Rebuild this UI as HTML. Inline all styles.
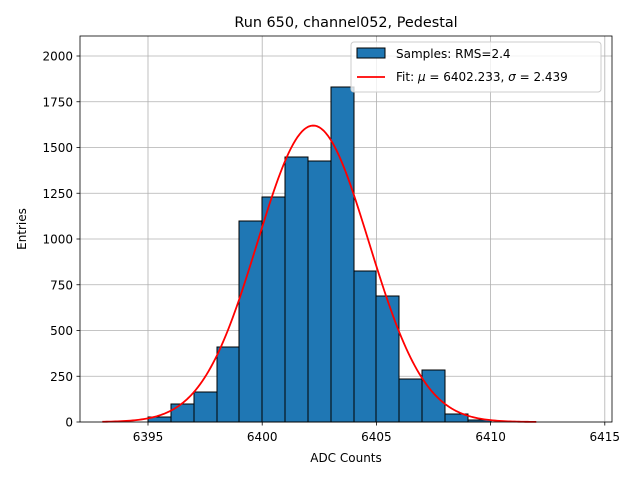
<!DOCTYPE html>
<html><head><meta charset="utf-8"><style>
body{margin:0;background:#fff;}
svg text{font-family:"DejaVu Sans","Liberation Sans",sans-serif;}
</style></head><body>
<svg id="chart" width="640" height="480" xmlns="http://www.w3.org/2000/svg">
<rect width="640" height="480" fill="#fff"/>
<text x="346" y="27" font-size="14.4" text-anchor="middle">Run 650, channel052, Pedestal</text>
<g id="grid"></g>
<g id="bars"></g>
<g id="fit"></g>
<rect x="80" y="36" width="532" height="386" fill="none" stroke="#000" stroke-width="0.8"/>
<g id="ticks"></g>
<text x="346" y="462" font-size="12" text-anchor="middle">ADC Counts</text>
<text transform="translate(26,229) rotate(-90)" font-size="12" text-anchor="middle">Entries</text>
<g>
<rect x="351" y="42" width="250" height="50" rx="3" fill="#fff" fill-opacity="0.8" stroke="#ccc"/>
<rect x="357" y="48" width="28" height="10" fill="#1f77b4" stroke="#000" stroke-width="1"/>
<text x="396" y="58" font-size="12">Samples: RMS=2.4</text>
<line x1="357" y1="77" x2="385" y2="77" stroke="red" stroke-width="1.8"/>
<text x="396" y="81" font-size="12">Fit: <tspan font-style="italic">μ</tspan> = 6402.233, <tspan font-style="italic">σ</tspan> = 2.439</text>
</g>
</svg>
<script>
const binStarts=[6395,6396,6397,6398,6399,6400,6401,6402,6403,6404,6405,6406,6407,6408,6409];
const counts=[25,98,165,410,1100,1230,1450,1425,1830,825,690,235,285,44,10];
const xTicks=[6395,6400,6405,6410,6415];
const yTicks=[0,250,500,750,1000,1250,1500,1750,2000];
const fitMu=6402.233, fitSigma=2.439, fitAmp=1620, fitMin=6393, fitMax=6412;
const NS="http://www.w3.org/2000/svg";
const X=v=>148+(v-6395)*22.84;
const Y=v=>422-v*0.183;
function mk(t,a,p){const e=document.createElementNS(NS,t);for(const k in a)e.setAttribute(k,a[k]);p.appendChild(e);return e;}
const grid=document.getElementById('grid'),ticks=document.getElementById('ticks'),bars=document.getElementById('bars'),fit=document.getElementById('fit');
xTicks.forEach(v=>{
 const g=mk('line',{x1:X(v),x2:X(v),y1:36,y2:422,stroke:'#b0b0b0','stroke-width':0.8},grid);
 
 
 const t=mk('line',{x1:X(v),x2:X(v),y1:422,y2:425.5,stroke:'#000','stroke-width':0.8},ticks);
 
 
 const l=mk('text',{x:X(v),y:441,'font-size':12,'text-anchor':'middle'},ticks);l.textContent=v;
 
 
});
yTicks.forEach(v=>{
 const g=mk('line',{x1:80,x2:612,y1:Y(v),y2:Y(v),stroke:'#b0b0b0','stroke-width':0.8},grid);
 
 
 const t=mk('line',{x1:76.5,x2:80,y1:Y(v),y2:Y(v),stroke:'#000','stroke-width':0.8},ticks);
 
 
 const l=mk('text',{x:73,y:Y(v)+4.5,'font-size':12,'text-anchor':'end'},ticks);l.textContent=v;
 
 
});
binStarts.forEach((b,i)=>{
 const x0=Math.round(X(b)),x1=Math.round(X(b+1)),y0=Math.round(Y(counts[i]));
 const r=mk('rect',{x:x0,y:y0,width:x1-x0,height:422-y0,fill:'#1f77b4',stroke:'#000','stroke-width':1},bars);
 
 
});
let d='';
for(let i=0;i<=200;i++){const x=fitMin+(fitMax-fitMin)*i/200;const y=fitAmp*Math.exp(-0.5*((x-fitMu)/fitSigma)**2);d+=(i?'L':'M')+X(x).toFixed(2)+','+Y(y).toFixed(2);}
const p=mk('path',{d:d,fill:'none',stroke:'red','stroke-width':1.8},fit);


</script>
</body></html>
